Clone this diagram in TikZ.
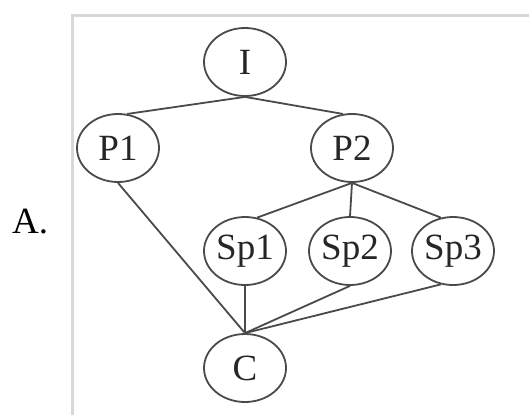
\documentclass[tikz,border=0pt]{standalone}
\usepackage{fontspec}
\setmainfont{Liberation Serif}
\usetikzlibrary{shapes.geometric}
\definecolor{linegray}{HTML}{4A4A4A}
\definecolor{framegray}{HTML}{D8D8D8}
\begin{document}
\begin{tikzpicture}[x=1pt,y=-1pt,
  st/.style={ellipse,draw=linegray,line width=1.8pt,minimum width=82pt,minimum height=68pt,inner sep=0pt,text=black!85,font=\fontsize{37}{37}\selectfont},
  conn/.style={draw=linegray,line width=1.8pt}]
\useasboundingbox[fill=white] (0,0) rectangle (529,415);
\draw[framegray,line width=3pt] (72,415) -- (72,15) -- (529,15);
\node[anchor=base west,font=\fontsize{37}{37}\selectfont,inner sep=0pt] (lab) at (12,233) {A.};
\node[st] (I) at (245,62) {I};
\node[st] (P1) at (118,148) {P1};
\node[st] (P2) at (352,148) {P2};
\node[st] (S1) at (245,251) {Sp1};
\node[st] (S2) at (350,251) {Sp2};
\node[st] (S3) at (453,251) {Sp3};
\node[st] (C) at (245,368) {C};
\draw[conn] (I.south) -- (P1.75);
\draw[conn] (I.south) -- (P2.105);
\draw[conn] (P1.south) -- (C.north);
\draw[conn] (P2.south) -- (S1.70);
\draw[conn] (P2.south) -- (S2.north);
\draw[conn] (P2.south) -- (S3.110);
\draw[conn] (S1.south) -- (C.north);
\draw[conn] (S2.south) -- (C.north);
\draw[conn] (S3.250) -- (C.north);
\end{tikzpicture}
\end{document}
